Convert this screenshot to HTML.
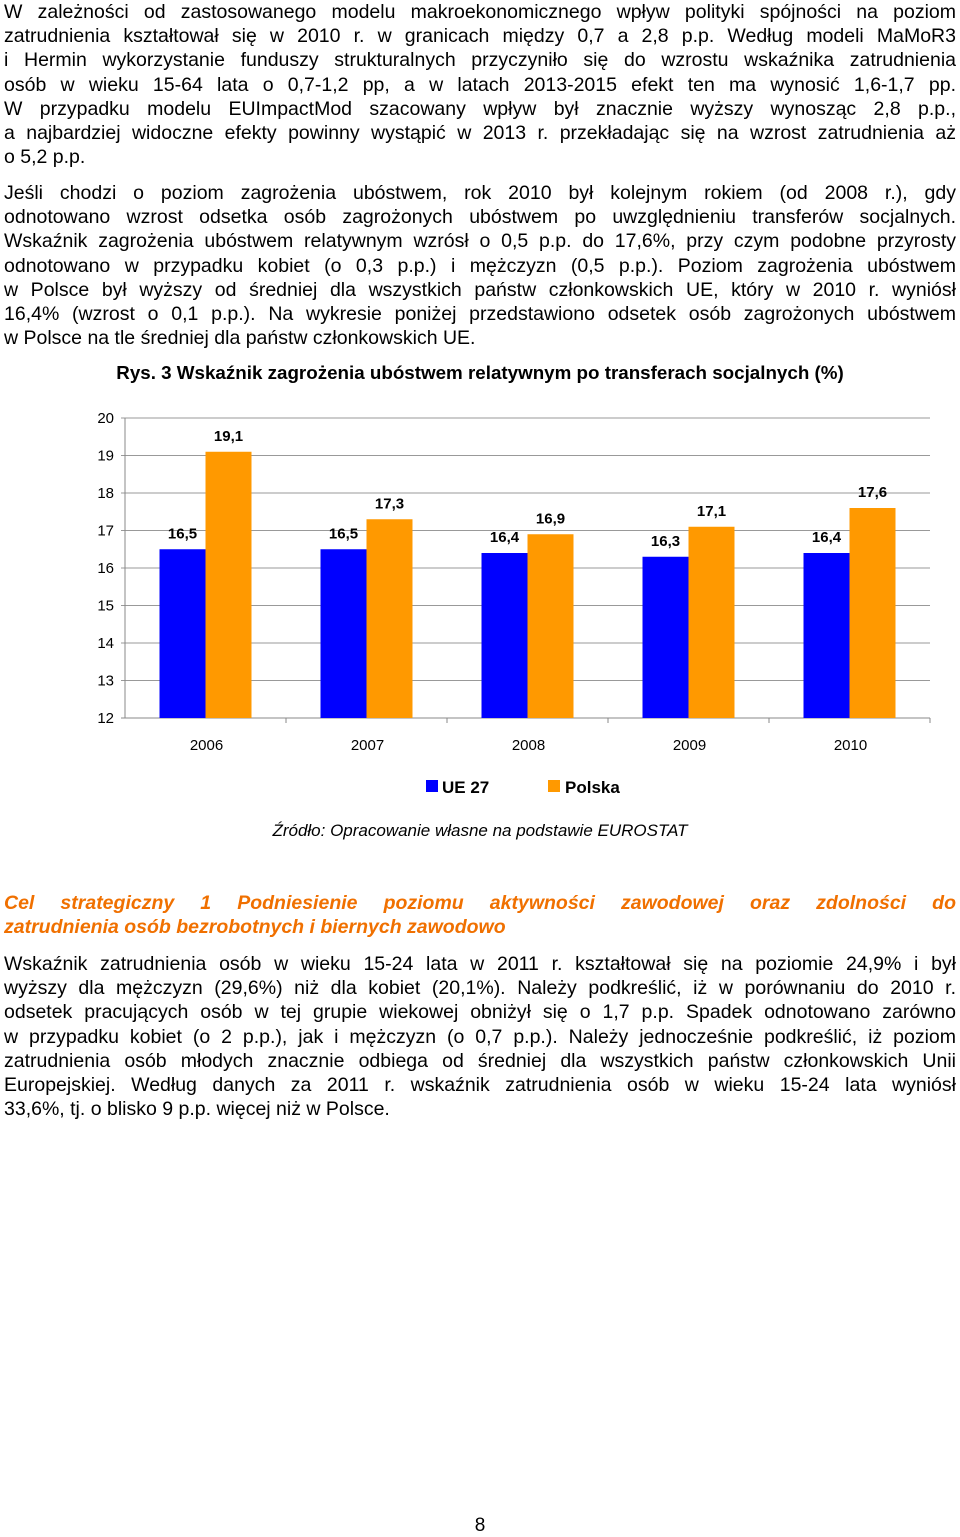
<!DOCTYPE html>
<html><head><meta charset="utf-8">
<style>
body{margin:0;width:960px;height:1535px;background:#fff;position:relative;font-family:"Liberation Sans",Arial,sans-serif;color:#000;overflow:hidden}
.p{position:absolute;left:4px;width:952px;font-size:19.5px;line-height:24.2px}
.l{text-align:justify;text-align-last:justify;white-space:nowrap;height:24.2px}
.l.e{text-align-last:left}
</style></head><body>
<div class="p" style="top:0px">
<div class="l">W zależności od zastosowanego modelu makroekonomicznego wpływ polityki spójności na poziom</div>
<div class="l">zatrudnienia kształtował się w 2010 r. w granicach między 0,7 a 2,8 p.p. Według modeli MaMoR3</div>
<div class="l">i Hermin wykorzystanie funduszy strukturalnych przyczyniło się do wzrostu wskaźnika zatrudnienia</div>
<div class="l">osób w wieku 15-64 lata o 0,7-1,2 pp, a w latach 2013-2015 efekt ten ma wynosić 1,6-1,7 pp.</div>
<div class="l">W przypadku modelu EUImpactMod szacowany wpływ był znacznie wyższy wynosząc 2,8 p.p.,</div>
<div class="l">a najbardziej widoczne efekty powinny wystąpić w 2013 r. przekładając się na wzrost zatrudnienia aż</div>
<div class="l e">o 5,2 p.p.</div>
</div>
<div class="p" style="top:181px">
<div class="l">Jeśli chodzi o poziom zagrożenia ubóstwem, rok 2010 był kolejnym rokiem (od 2008 r.), gdy</div>
<div class="l">odnotowano wzrost odsetka osób zagrożonych ubóstwem po uwzględnieniu transferów socjalnych.</div>
<div class="l">Wskaźnik zagrożenia ubóstwem relatywnym wzrósł o 0,5 p.p. do 17,6%, przy czym podobne przyrosty</div>
<div class="l">odnotowano w przypadku kobiet (o 0,3 p.p.) i mężczyzn (0,5 p.p.). Poziom zagrożenia ubóstwem</div>
<div class="l">w Polsce był wyższy od średniej dla wszystkich państw członkowskich UE, który w 2010 r. wyniósł</div>
<div class="l">16,4% (wzrost o 0,1 p.p.). Na wykresie poniżej przedstawiono odsetek osób zagrożonych ubóstwem</div>
<div class="l e">w Polsce na tle średniej dla państw członkowskich UE.</div>
</div>
<div style="position:absolute;top:362px;left:0;width:960px;text-align:center;font-weight:bold;font-size:18.8px">Rys. 3 Wskaźnik zagrożenia ubóstwem relatywnym po transferach socjalnych (%)</div>
<svg id="chart" style="position:absolute;left:0;top:0" width="960" height="860" font-family="Liberation Sans, Arial, sans-serif"></svg>
<div style="position:absolute;top:821px;left:0;width:960px;text-align:center;font-style:italic;font-size:17px">Źródło: Opracowanie własne na podstawie EUROSTAT</div>
<div class="p" style="top:891px;color:#f07000;font-weight:bold;font-style:italic">
<div class="l">Cel strategiczny 1 Podniesienie poziomu aktywności zawodowej oraz zdolności do</div>
<div class="l e">zatrudnienia osób bezrobotnych i biernych zawodowo</div>
</div>
<div class="p" style="top:952px">
<div class="l">Wskaźnik zatrudnienia osób w wieku 15-24 lata w 2011 r. kształtował się na poziomie 24,9% i był</div>
<div class="l">wyższy dla mężczyzn (29,6%) niż dla kobiet (20,1%). Należy podkreślić, iż w porównaniu do 2010 r.</div>
<div class="l">odsetek pracujących osób w tej grupie wiekowej obniżył się o 1,7 p.p. Spadek odnotowano zarówno</div>
<div class="l">w przypadku kobiet (o 2 p.p.), jak i mężczyzn (o 0,7 p.p.). Należy jednocześnie podkreślić, iż poziom</div>
<div class="l">zatrudnienia osób młodych znacznie odbiega od średniej dla wszystkich państw członkowskich Unii</div>
<div class="l">Europejskiej. Według danych za 2011 r. wskaźnik zatrudnienia osób w wieku 15-24 lata wyniósł</div>
<div class="l e">33,6%, tj. o blisko 9 p.p. więcej niż w Polsce.</div>
</div>
<div style="position:absolute;top:1515px;left:0;width:960px;text-align:center;font-size:19px">8</div>
<script>
const categories=["2006","2007","2008","2009","2010"];
const ue27=[16.5,16.5,16.4,16.3,16.4];
const polska=[19.1,17.3,16.9,17.1,17.6];
const yTicks=[12,13,14,15,16,17,18,19,20];
const svg=document.getElementById('chart');
const NS='http://www.w3.org/2000/svg';
const X0=125,X1=930,Y0=718,Y1=418,YMIN=12,YMAX=20;
const y=v=>Y0-(v-YMIN)/(YMAX-YMIN)*(Y0-Y1);
const step=(X1-X0)/categories.length;
const xc=i=>X0+step*(i+0.5);
function mk(t,a,txt){const e=document.createElementNS(NS,t);for(const k in a)e.setAttribute(k,a[k]);if(txt!=null)e.textContent=txt;svg.appendChild(e);return e;}
yTicks.forEach(t=>{
const g=mk('line',{x1:X0-4,x2:X1,y1:y(t),y2:y(t),stroke:t===YMIN?'#888':'#999','stroke-width':1});


const lb=mk('text',{x:X0-11,y:y(t)+5,'text-anchor':'end','font-size':15},String(t));


});
const ax=mk('line',{x1:X0,x2:X0,y1:Y1,y2:Y0,stroke:'#888'});


const bw=46;
categories.forEach((c,i)=>{
const cx=xc(i);
[[ue27[i],'#0000ff',cx-bw,'ue27'],[polska[i],'#ff9900',cx,'polska']].forEach(([v,col,bx,s])=>{
const r=mk('rect',{x:bx,y:y(v),width:bw,height:Y0-y(v),fill:col});


const t=mk('text',{x:bx+bw/2,y:y(v)-11,'text-anchor':'middle','font-size':15,'font-weight':'bold'},v.toFixed(1).replace('.',','));


});
const tk=mk('line',{x1:X0+step*(i+1),x2:X0+step*(i+1),y1:Y0,y2:Y0+5,stroke:'#888'});


const xl=mk('text',{x:cx+1,y:750,'text-anchor':'middle','font-size':15},c);


});
const l1=mk('rect',{x:426,y:780,width:12,height:12,fill:'#0000ff'});


const l1t=mk('text',{x:442,y:793,'font-size':17,'font-weight':'bold'},'UE 27');


const l2=mk('rect',{x:548,y:780,width:12,height:12,fill:'#ff9900'});


const l2t=mk('text',{x:565,y:793,'font-size':17,'font-weight':'bold'},'Polska');


</script>
</body></html>
